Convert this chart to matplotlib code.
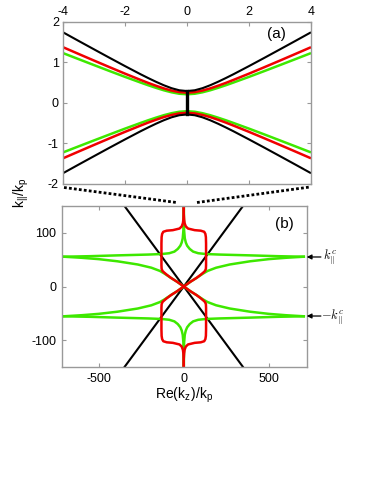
import numpy as np
import matplotlib
matplotlib.use("Agg")
import matplotlib.pyplot as plt
from matplotlib.lines import Line2D

plt.rcParams['font.family'] = ['Liberation Sans', 'DejaVu Sans']
plt.rcParams['axes.unicode_minus'] = False
plt.rcParams['mathtext.fontset'] = 'cm'

# ---------------- panel (a) data (upper branch, x >= 0; symmetric in x and y)
xa_half = [0, 0.25, 0.5, 0.75, 1, 1.25, 1.5, 2, 2.5, 3, 3.5, 4]
ya_black = [0.29, 0.309, 0.361, 0.434, 0.519, 0.611, 0.707, 0.908, 1.114, 1.323, 1.533, 1.745]
ya_red = [0.25, 0.264, 0.302, 0.356, 0.421, 0.491, 0.566, 0.721, 0.882, 1.045, 1.21, 1.376]
ya_green = [0.21, 0.223, 0.259, 0.309, 0.369, 0.433, 0.501, 0.641, 0.786, 0.933, 1.081, 1.23]
a_gap = 0.29  # black vertical segment half-length at x=0

# ---------------- panel (b) data (first-quadrant pieces; symmetric)
black_b_x = [-348, 348]
black_b_y = [-150, 150]
red_x = [0, 40, 75, 100, 115, 125, 130, 131, 131, 131, 130, 127, 120, 100, 64, 25, 12, 5, 2, 0, 0]
red_y = [0, 9, 16, 22, 26, 29, 33, 40, 60, 80, 92, 98, 102, 104, 105, 108, 112, 118, 125, 135, 150]
green_out_x = [0.5, 2, 6, 12, 20, 35, 55, 85, 130, 210, 390, 550, 705]
green_out_y = [150, 105, 90, 82, 76, 70, 65, 62, 60.5, 59.5, 58, 56.5, 55.5]
green_in_x = [0, 40, 75, 113, 140, 190, 270, 390, 500, 600, 705]
green_in_y = [0, 9, 16, 24, 29, 35, 41, 47, 51, 53.5, 55.5]
k_c = 55

W, H = 374, 484
fig = plt.figure(figsize=(W / 100, H / 100), dpi=100)

spine_col = '#999999'
RED = '#f00000'
GREEN = '#3ee800'

def style(ax):
    for s in ax.spines.values():
        s.set_color(spine_col)
        s.set_linewidth(1.0)
    ax.tick_params(direction='in', length=3, width=0.8, color=spine_col,
                   labelsize=9, labelcolor='black')

# ---------------- (a)
axa = fig.add_axes([63 / W, 1 - 183.5 / H, 248 / W, 161.5 / H])
xh = np.array(xa_half)
xa = np.concatenate([-xh[::-1], xh[1:]])
def full(y):
    y = np.array(y)
    return np.concatenate([y[::-1], y[1:]])
for yy, c, lw in [(ya_green, GREEN, 1.8), (ya_red, RED, 1.8), (ya_black, 'black', 1.5)]:
    axa.plot(xa, full(yy), color=c, lw=lw, solid_capstyle='butt')
    axa.plot(xa, -full(yy), color=c, lw=lw, solid_capstyle='butt')
axa.plot([0, 0], [-a_gap, a_gap], color='black', lw=2.4)
axa.set_xlim(-4, 4)
axa.set_ylim(-2, 2)
axa.set_xticks([-4, -2, 0, 2, 4])
axa.set_yticks([-2, -1, 0, 1, 2])
style(axa)
axa.tick_params(top=True, bottom=True, left=True, right=True,
                labeltop=True, labelbottom=False, pad=3)
axa.text(0.859, 0.923, '(a)', transform=axa.transAxes, fontsize=11,
         ha='center', va='center')

# ---------------- (b)
axb = fig.add_axes([62 / W, 1 - 367 / H, 244.7 / W, 161 / H])
bx = np.array(black_b_x)
by = np.array(black_b_y)
axb.plot(bx, by, color='black', lw=1.5)
axb.plot(bx, -by, color='black', lw=1.5)
for sx in (1, -1):
    for sy in (1, -1):
        axb.plot(sx * np.array(green_out_x), sy * np.array(green_out_y), color=GREEN, lw=1.8)
        axb.plot(sx * np.array(green_in_x), sy * np.array(green_in_y), color=GREEN, lw=1.8)
for sx in (1, -1):
    for sy in (1, -1):
        axb.plot(sx * np.array(red_x), sy * np.array(red_y), color=RED, lw=1.8)
axb.set_xlim(-715, 722)
axb.set_ylim(-150, 150)
axb.set_xticks([-500, 0, 500])
axb.set_yticks([-100, 0, 100])
style(axb)
axb.tick_params(top=True, bottom=True, left=True, right=True, pad=4)
axb.tick_params(axis='x', pad=4)
axb.text(0.907, 0.888, '(b)', transform=axb.transAxes, fontsize=11,
         ha='center', va='center')

tr = axb.get_yaxis_transform()
for yv in (k_c, -k_c):
    axb.annotate('', xy=(1.0, yv), xycoords=tr, xytext=(1.058, yv), textcoords=tr,
                 arrowprops=dict(arrowstyle='-|>', color='black', lw=0.9,
                                 mutation_scale=7, shrinkA=0, shrinkB=0),
                 annotation_clip=False)
axb.text(1.068, k_c - 1, r'$k_{||}^{c}$', transform=tr, fontsize=9,
         ha='left', va='center')
axb.text(1.058, -k_c - 2, r'$-k_{||}^{c}$', transform=tr, fontsize=9,
         ha='left', va='center')

# labels
fig.text(21 / W, 1 - 193 / H, r'$\mathregular{k_{||}/k_p}$', rotation=90,
         ha='center', va='center', fontsize=10)
fig.text(184 / W, 1 - 386 / H, r'Re(k$_\mathregular{z}$)/k$_\mathregular{p}$',
         ha='center', va='top', fontsize=10)

# dotted zoom lines
for (x0, y0, x1, y1) in [(64, 187.5, 176.5, 202.5), (197, 202.5, 310, 187)]:
    fig.add_artist(Line2D([x0 / W, x1 / W], [1 - y0 / H, 1 - y1 / H],
                          transform=fig.transFigure, color='black', lw=2.0,
                          linestyle=(0, (1, 0.8)), dash_capstyle='butt'))

fig.savefig('out.png', dpi=100)
